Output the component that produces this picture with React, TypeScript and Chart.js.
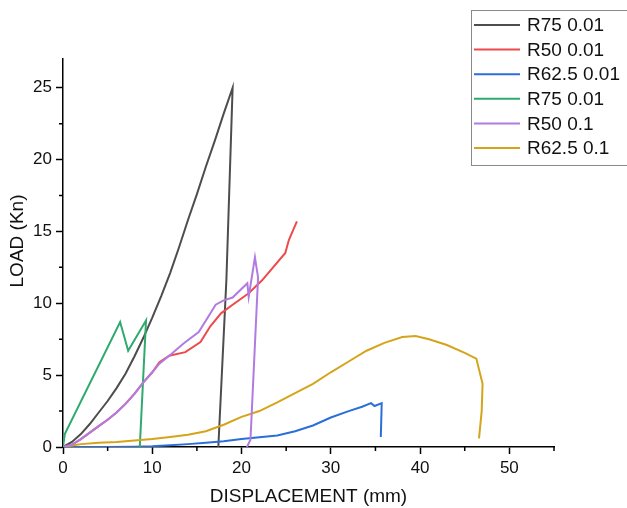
import React, { useEffect, useRef } from "react";
import { Chart, registerables } from "chart.js";

Chart.register(...registerables);

const seriesLabels = ["R75 0.01", "R50 0.01", "R62.5 0.01", "R75 0.01", "R50 0.1", "R62.5 0.1"];
const seriesColors = ["#4d4d4d", "#ee4a4c", "#2a6fd8", "#2eaa6e", "#b07be2", "#d4a41a"];
const drawOrder = [5, 4, 3, 2, 0, 1];

const blackX = [0, 1, 2, 3, 4, 5, 6, 7, 8, 9, 10, 11, 12, 13, 14, 15, 16, 17, 18, 19, 18.3, 17.4];
const blackY = [0, 0.35, 0.9, 1.6, 2.4, 3.2, 4.1, 5.1, 6.3, 7.6, 9.0, 10.5, 12.1, 13.9, 15.8, 17.6, 19.5, 21.3, 23.2, 25.0, 11.6, 0];

const redX = [0, 1, 2, 3, 4, 5, 6, 7, 8, 9, 10, 10.8, 11.9, 13.7, 15.4, 16.5, 17.7, 19, 20.8, 22.3, 24.9, 25.3, 26.2];
const redY = [0, 0.15, 0.55, 1.0, 1.45, 1.9, 2.4, 3.0, 3.7, 4.5, 5.2, 5.9, 6.35, 6.6, 7.3, 8.4, 9.3, 9.9, 10.7, 11.6, 13.5, 14.4, 15.7];

const blueX = [0, 5, 8, 10, 12, 14, 16, 18, 20, 22, 24, 26, 28, 30, 32, 33.5, 34.5, 34.9, 35.7, 35.6];
const blueY = [0, 0, 0.02, 0.05, 0.12, 0.2, 0.3, 0.4, 0.55, 0.68, 0.8, 1.1, 1.5, 2.05, 2.5, 2.8, 3.05, 2.85, 3.05, 0.7];

const greenX = [0, 0.2, 6.4, 7.3, 9.3, 8.6];
const greenY = [0, 0.9, 8.7, 6.7, 8.8, 0];

const purpleX = [0, 1, 2, 3, 4, 5, 6, 7, 8, 9, 10, 10.8, 12.2, 13.5, 15.2, 16.2, 17.1, 18, 19, 20.65, 20.8, 21.5, 21.85, 21.0, 20.6];
const purpleY = [0, 0.15, 0.55, 1.0, 1.45, 1.9, 2.4, 3.0, 3.7, 4.5, 5.2, 5.8, 6.5, 7.2, 8.0, 9.0, 9.9, 10.2, 10.4, 11.4, 10.45, 13.2, 11.8, 0.5, 0];

const yellowX = [0, 2, 4, 6, 8, 10, 12, 14, 16, 18, 20, 22, 24, 26, 28, 30, 32, 34, 36, 38, 39.5, 41, 43, 45, 46.3, 47.0, 46.9, 46.6];
const yellowY = [0, 0.2, 0.3, 0.35, 0.45, 0.55, 0.7, 0.85, 1.1, 1.55, 2.1, 2.5, 3.1, 3.75, 4.4, 5.2, 5.95, 6.7, 7.25, 7.65, 7.72, 7.5, 7.1, 6.55, 6.15, 4.4, 2.5, 0.6];

const xTitle = "DISPLACEMENT (mm)";
const yTitle = "LOAD (Kn)";
const xMinorTicks = [5, 15, 25, 35, 45, 55];
const yMinorTicks = [2.5, 7.5, 12.5, 17.5, 22.5];

const FONT = "'Liberation Sans', Arial, sans-serif";

const seriesX = [blackX, redX, blueX, greenX, purpleX, yellowX];
const seriesY = [blackY, redY, blueY, greenY, purpleY, yellowY];

const extrasPlugin = {
  id: "extras",
  afterDraw(chart: any) {
    const ctx = chart.ctx;
    const xs = chart.scales.x;
    const ys = chart.scales.y;
    ctx.save();
    ctx.strokeStyle = "#000";
    ctx.lineWidth = 1.5;
    ctx.beginPath();
    for (const v of xMinorTicks) {
      const px = xs.getPixelForValue(v);
      ctx.moveTo(px, ys.bottom);
      ctx.lineTo(px, ys.bottom + 4);
    }
    for (const v of yMinorTicks) {
      const py = ys.getPixelForValue(v);
      ctx.moveTo(xs.left, py);
      ctx.lineTo(xs.left - 4, py);
    }
    ctx.stroke();
    ctx.fillStyle = "#111";
    ctx.font = `19px ${FONT}`;
    ctx.textAlign = "center";
    ctx.textBaseline = "middle";
    ctx.fillText(xTitle, (xs.left + xs.right) / 2, 497);
    ctx.save();
    ctx.translate(18, 241);
    ctx.rotate(-Math.PI / 2);
    ctx.fillText(yTitle, 0, 0);
    ctx.restore();
    ctx.strokeStyle = "#8a8a8a";
    ctx.lineWidth = 1;
    ctx.strokeRect(471.5, 10.5, 200, 155);
    ctx.font = `19px ${FONT}`;
    ctx.textAlign = "left";
    seriesLabels.forEach((lab, i) => {
      const y = 25 + i * 24.6;
      ctx.strokeStyle = seriesColors[i];
      ctx.lineWidth = 2;
      ctx.beginPath();
      ctx.moveTo(474, y);
      ctx.lineTo(520, y);
      ctx.stroke();
      ctx.fillStyle = "#111";
      ctx.fillText(lab, 527, y + 1);
    });
    ctx.restore();
  },
};

export default function App() {
  const ref = useRef<HTMLCanvasElement | null>(null);
  useEffect(() => {
    if (!ref.current) return;
    const datasets = seriesLabels.map((lab, i) => ({
      label: lab,
      data: seriesX[i].map((x, j) => ({ x, y: seriesY[i][j] })),
      borderColor: seriesColors[i],
      backgroundColor: seriesColors[i],
      borderWidth: 2,
      pointRadius: 0,
      tension: 0,
      fill: false,
      order: drawOrder[i],
    }));
    const chart = new Chart(ref.current, {
      type: "line",
      data: { datasets },
      options: {
        animation: false,
        responsive: false,
        maintainAspectRatio: false,
        layout: { padding: { top: 59, right: 73, left: 0, bottom: 0 } },
        plugins: { legend: { display: false }, tooltip: { enabled: false } },
        scales: {
          x: {
            type: "linear",
            min: 0,
            max: 55,
            ticks: { stepSize: 10, color: "#111", font: { family: FONT, size: 17 }, padding: 4, maxRotation: 0 },
            grid: { drawOnChartArea: false, drawTicks: true, tickLength: 7, tickColor: "#000", tickWidth: 1.5 },
            border: { display: true, color: "#000", width: 1.5 },
            afterBuildTicks: (s: any) => {
              s.ticks = s.ticks.filter((t: any) => t.value % 10 === 0);
            },
            afterFit: (s: any) => {
              s.height = 61;
            },
          },
          y: {
            type: "linear",
            min: 0,
            max: 27,
            ticks: { stepSize: 5, color: "#111", font: { family: FONT, size: 17 }, padding: 4 },
            grid: { drawOnChartArea: false, drawTicks: true, tickLength: 7, tickColor: "#000", tickWidth: 1.5 },
            border: { display: true, color: "#000", width: 1.5 },
            afterBuildTicks: (s: any) => {
              s.ticks = s.ticks.filter((t: any) => t.value % 5 === 0);
            },
            afterFit: (s: any) => {
              s.width = 63;
            },
          },
        },
      },
      plugins: [extrasPlugin],
    });
    return () => chart.destroy();
  }, []);
  return (
    <div style={{ position: "fixed", left: 0, top: 0, width: 627, height: 508, background: "#fff" }}>
      <canvas ref={ref} width={627} height={508} style={{ width: 627, height: 508, display: "block" }} />
    </div>
  );
}
